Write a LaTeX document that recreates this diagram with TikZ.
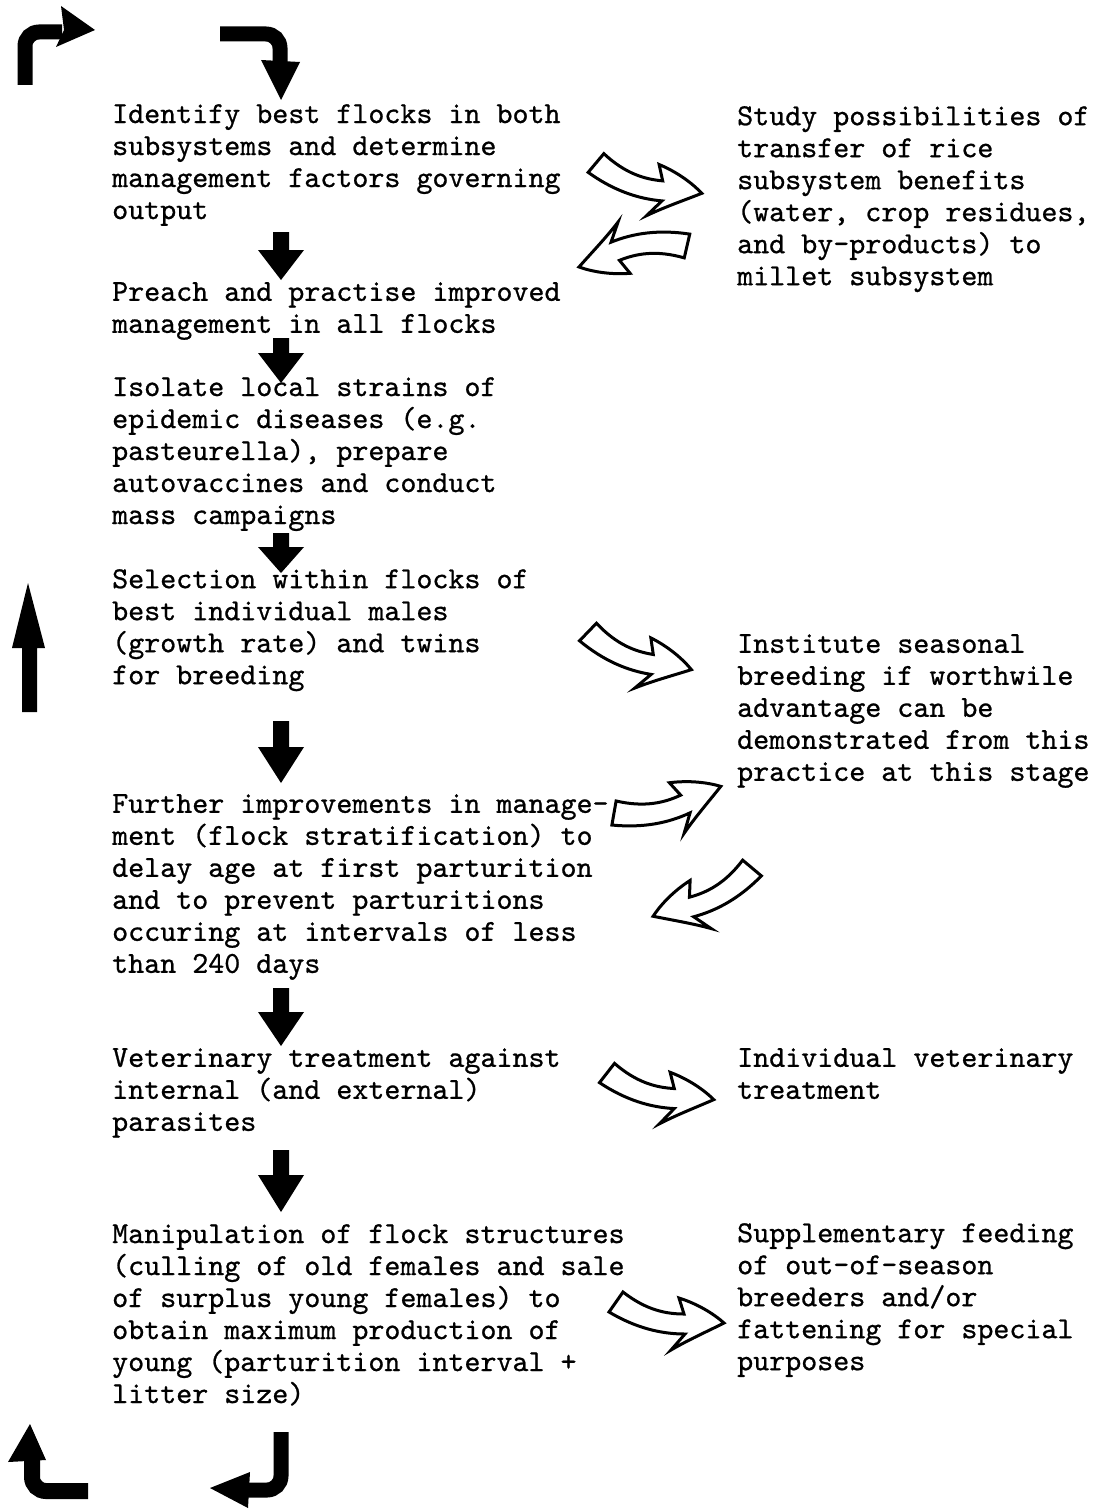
\documentclass[tikz,border=0pt]{standalone}
\usepackage{fontspec}
\newfontfamily\typewriter[FakeBold=0.8]{lmmono10-regular.otf}
\usetikzlibrary{positioning}

\begin{document}
\begin{tikzpicture}[x=1pt, y=-1pt,
  every node/.style={font=\fontsize{30.5}{32}\selectfont\typewriter, inner sep=0pt, anchor=north west, align=left, execute at begin node=\strut},
  blackfill/.style={fill=black, draw=none},
  bentshaft/.style={line width=15pt, rounded corners=14pt},
  hollowarrow/.pic={
    \draw[line width=3pt, fill=white] (7,-10) .. controls (30,8) and (50,12) .. (68,12) -- (63,-4) .. controls (82,2) and (98,12) .. (108,21) .. controls (90,30) and (72,38) .. (55,48) -- (69,32) .. controls (45,32) and (20,26) .. (-7,10) -- cycle;
  }]
\useasboundingbox (0,0) rectangle (1095,1509);

\node (IdentifyFlocks) at (112,104) {Identify best flocks in both\\subsystems and determine\\management factors governing\\output};
\node (PreachManagement) at (112,282) {Preach and practise improved\\management in all flocks};
\node (IsolateStrains) at (112,377) {Isolate local strains of\\epidemic diseases (e.g.\\pasteurella), prepare\\autovaccines and conduct\\mass campaigns};
\node (SelectMales) at (112,569) {Selection within flocks of\\best individual males\\(growth rate) and twins\\for breeding};
\node (FurtherImprovements) at (112,794) {Further improvements in manage-\\ment (flock stratification) to\\delay age at first parturition\\and to prevent parturitions\\occuring at intervals of less\\than 240 days};
\node (VeterinaryTreatment) at (112,1048) {Veterinary treatment against\\internal (and external)\\parasites};
\node (FlockStructure) at (112,1224) {Manipulation of flock structures\\(culling of old females and sale\\of surplus young females) to\\obtain maximum production of\\young (parturition interval +\\litter size)};

\node (StudyTransfer) at (737,106) {Study possibilities of\\transfer of rice\\subsystem benefits\\(water, crop residues,\\and by-products) to\\millet subsystem};
\node (SeasonalBreeding) at (737,634) {Institute seasonal\\breeding if worthwile\\advantage can be\\demonstrated from this\\practice at this stage};
\node (IndividualTreatment) at (737,1048) {Individual veterinary\\treatment};
\node (SupplementaryFeeding) at (737,1223) {Supplementary feeding\\of out-of-season\\breeders and/or\\fattening for special\\purposes};

% solid down arrows
\foreach \top/\base/\tip in {232/250/280, 338/353/383, 533/547/573, 721/747/783, 988/1012/1046, 1150/1175/1212}
  \fill[blackfill] (273,\top) -- (289,\top) -- (289,\base) -- (304,\base) -- (281,\tip) -- (258,\base) -- (273,\base) -- cycle;

% solid up arrow
\fill[blackfill] (22,712) -- (37,712) -- (37,648) -- (45,648) -- (28,583) -- (12,648) -- (22,648) -- cycle;

% bent arrows in the corners
\draw[bentshaft] (25,85) -- (25,32) -- (62,32);
\fill[blackfill] (61,6) -- (95,30) -- (56,47) -- (64,30) -- cycle;
\draw[bentshaft] (220,34) -- (280,34) -- (280,66);
\fill[blackfill] (261,60) -- (300,62) -- (281,100) -- cycle;
\draw[bentshaft, line width=16pt] (88,1491) -- (32,1491) -- (32,1455);
\fill[blackfill] (8,1462) -- (30,1424) -- (46,1460) -- cycle;
\draw[bentshaft] (281,1432) -- (281,1490) -- (240,1490);
\fill[blackfill] (250,1472) -- (210,1488) -- (248,1508) -- cycle;

% hollow arrows
\pic[rotate=-5] at (596,163) {hollowarrow};
\pic[rotate=202] at (687,246) {hollowarrow};
\pic[rotate=-9] at (588,632) {hollowarrow};
\pic[rotate=25] at (614,813) {hollowarrow};
\pic[rotate=195, yscale=-1] at (752,868) {hollowarrow};
\pic[rotate=-3] at (607,1073) {hollowarrow};
\pic at (616,1302) {hollowarrow};
\end{tikzpicture}
\end{document}
